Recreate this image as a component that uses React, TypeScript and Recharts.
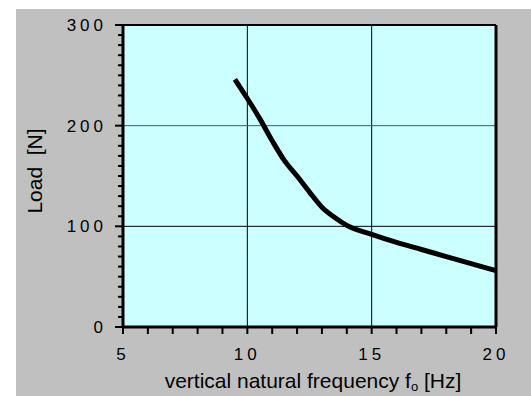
import React from "react";
import {
  LineChart,
  Line,
  XAxis,
  YAxis,
  CartesianGrid,
  ReferenceLine,
} from "recharts";

// vertical natural frequency [Hz] vs. load [N]
const frequency = [9.5, 10, 10.5, 11, 11.5, 12, 12.5, 13, 13.5, 14, 15, 16, 17, 18, 19, 20];
const load = [246, 227, 207, 185, 165, 150, 134, 119, 109, 101, 92, 84, 77, 70, 63, 56];

const xTicks = [5, 6, 7, 8, 9, 10, 11, 12, 13, 14, 15, 16, 17, 18, 19, 20];
const yMajor = [0, 100, 200, 300];
const yTicks = Array.from({ length: 31 }, (_, i) => i * 10);

const data = frequency.map((f, i) => ({ f, load: load[i] }));

const FONT = "'Liberation Sans', Arial, sans-serif";

const XTick = (props: any) => {
  const { x, y, payload } = props;
  const major = payload.value % 5 === 0;
  return (
    <g>
      <line x1={x} y1={y} x2={x} y2={y + 7} stroke="#000" strokeWidth={2} />
      {major && (
        <text
          x={x}
          y={y + 33}
          textAnchor="middle"
          fontFamily={FONT}
          fontSize={17}
          letterSpacing={4}
          fill="#000"
        >
          {payload.value}
        </text>
      )}
    </g>
  );
};

const YTick = (props: any) => {
  const { x, y, payload } = props;
  const major = yMajor.includes(payload.value);
  return (
    <g>
      <line x1={x - (major ? 8 : 5)} y1={y} x2={x} y2={y} stroke="#000" strokeWidth={2} />
      {major && (
        <text
          x={x - 16}
          y={y + 6}
          textAnchor="end"
          fontFamily={FONT}
          fontSize={17}
          letterSpacing={4}
          fill="#000"
        >
          {payload.value}
        </text>
      )}
    </g>
  );
};

export default function App() {
  return (
    <div
      style={{
        position: "absolute",
        left: 16,
        top: 9,
        width: 515,
        height: 387,
        background: "#C0C0C0",
      }}
    >
      <LineChart
        width={515}
        height={387}
        data={data}
        margin={{ top: 16, right: 35, left: 0, bottom: 0 }}
      >
        <CartesianGrid fill="#CCFFFF" horizontal={false} vertical={false} />
        <ReferenceLine x={10} stroke="#000" strokeWidth={1} />
        <ReferenceLine x={15} stroke="#000" strokeWidth={1} />
        <ReferenceLine y={100} stroke="#000" strokeWidth={1} />
        <ReferenceLine y={200} stroke="#3f5f5f" strokeWidth={1} />
        <ReferenceLine y={300} stroke="#000" strokeWidth={2} />
        <ReferenceLine x={20} stroke="#000" strokeWidth={3} />
        <XAxis
          dataKey="f"
          type="number"
          domain={[5, 20]}
          ticks={xTicks}
          interval={0}
          height={69}
          tickSize={0}
          tickMargin={0}
          tickLine={false}
          axisLine={{ stroke: "#000", strokeWidth: 3 }}
          tick={<XTick />}
          label={{
            content: () => (
              <text x={297} y={379} textAnchor="middle" fontFamily={FONT} fontSize={21} fill="#000">
                vertical natural frequency f
                <tspan fontSize={13} dy={3}>o</tspan>
                <tspan dy={-3}> [Hz]</tspan>
              </text>
            ),
          }}
        />
        <YAxis
          type="number"
          domain={[0, 300]}
          ticks={yTicks}
          interval={0}
          width={107}
          tickSize={0}
          tickMargin={0}
          tickLine={false}
          axisLine={{ stroke: "#000", strokeWidth: 3 }}
          tick={<YTick />}
          label={{
            content: () => (
              <text
                x={26}
                y={162}
                transform="rotate(-90 26 162)"
                textAnchor="middle"
                fontFamily={FONT}
                fontSize={21}
                fill="#000"
              >
                {"Load\u00A0\u00A0[N]"}
              </text>
            ),
          }}
        />
        <Line
          type="monotone"
          dataKey="load"
          stroke="#000"
          strokeWidth={5}
          dot={false}
          isAnimationActive={false}
        />
      </LineChart>
    </div>
  );
}
